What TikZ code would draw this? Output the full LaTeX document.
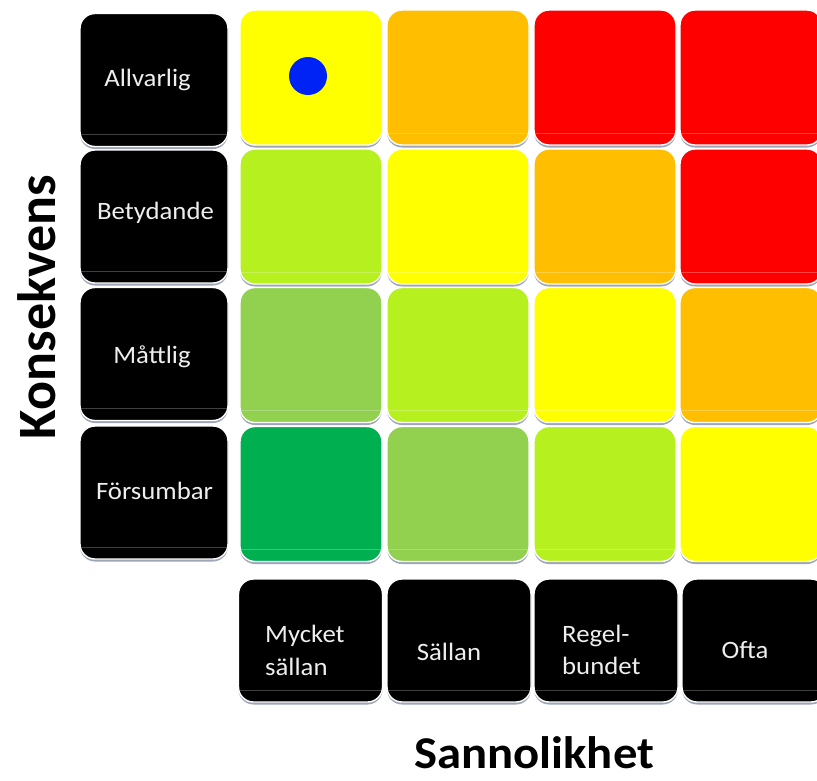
\documentclass[tikz,border=0pt]{standalone}
\usepackage{fontspec}
\setmainfont[FakeStretch=1.07]{Carlito}
\newfontfamily\vertfont{Carlito}
\usetikzlibrary{shadows}
\definecolor{cyel}{RGB}{255,255,0}
\definecolor{cora}{RGB}{255,190,0}
\definecolor{cred}{RGB}{255,0,0}
\definecolor{clime}{RGB}{182,240,30}
\definecolor{cmid}{RGB}{146,208,80}
\definecolor{cdark}{RGB}{0,176,80}
\definecolor{shadowc}{RGB}{140,150,170}
\definecolor{labelc}{RGB}{238,238,238}
\definecolor{dotc}{RGB}{0,35,245}
\begin{document}
\begin{tikzpicture}[x=1pt,y=-1pt,
  box/.style={rounded corners=15pt, inner sep=0pt, outer sep=0pt, draw=white, line width=1.4pt,
    drop shadow={shadow xshift=0pt, shadow yshift=-2.5pt, fill=shadowc, opacity=0.85}},
  cell/.style={box, minimum width=142pt, minimum height=135pt},
  side/.style={box, fill=black, minimum width=148pt, minimum height=133pt},
  bot/.style={box, fill=black, minimum width=144pt, minimum height=123pt},
  lbl/.style={text=labelc, font=\fontsize{25}{30}\selectfont, inner sep=0pt},
  gloss/.style={white, opacity=0.25, line width=0.8pt}]
\useasboundingbox (0,0) rectangle (817,780);
\clip (0,0) rectangle (817,780);
\fill[white] (0,0) rectangle (817,780);

% side labels
\node[side] (l1) at (154,80) {};
\node[side] (l2) at (154,216.5) {};
\node[side] (l3) at (154,354) {};
\node[side] (l4) at (154,492.5) {};

% matrix cells
\node[cell, fill=cyel]  (c11) at (311,77.5) {};
\node[cell, fill=cora]  (c12) at (458,77.5) {};
\node[cell, fill=cred]  (c13) at (605,77.5) {};
\node[cell, fill=cred]  (c14) at (751,77.5) {};
\node[cell, fill=clime] (c21) at (311,216.5) {};
\node[cell, fill=cyel]  (c22) at (458,216.5) {};
\node[cell, fill=cora]  (c23) at (605,216.5) {};
\node[cell, fill=cred]  (c24) at (751,216.5) {};
\node[cell, fill=cmid]  (c31) at (311,355) {};
\node[cell, fill=clime] (c32) at (458,355) {};
\node[cell, fill=cyel]  (c33) at (605,355) {};
\node[cell, fill=cora]  (c34) at (751,355) {};
\node[cell, fill=cdark] (c41) at (311,494) {};
\node[cell, fill=cmid]  (c42) at (458,494) {};
\node[cell, fill=clime] (c43) at (605,494) {};
\node[cell, fill=cyel]  (c44) at (751,494) {};

% bottom labels
\node[bot] (b1) at (310.5,640.5) {};
\node[bot] (b2) at (459,640.5) {};
\node[bot] (b3) at (606,640.5) {};
\node[bot] (b4) at (754,640.5) {};

% gloss lines
\foreach \n in {l1,l2,l3,l4,c11,c12,c13,c14,c21,c22,c23,c24,c31,c32,c33,c34,c41,c42,c43,c44,b1,b2,b3,b4}{
  \draw[gloss] ([xshift=1pt,yshift=12pt]\n.south west) -- ([xshift=-1pt,yshift=12pt]\n.south east);
}

% dot
\node[circle, fill=dotc, minimum size=38pt, inner sep=0pt] (dot) at (308,76) {};

% texts
\node[lbl, anchor=base] (t1) at (147.5,86) {Allvarlig};
\node[lbl, anchor=base] (t2) at (155.5,219) {Betydande};
\node[lbl, anchor=base] (t3) at (152,363) {Måttlig};
\node[lbl, anchor=base] (t4) at (154.5,499) {Försumbar};

\node[lbl, anchor=base west] (u1a) at (265,642) {Mycket};
\node[lbl, anchor=base west] (u1b) at (265,675) {sällan};
\node[lbl, anchor=base] (u2) at (449,660) {Sällan};
\node[lbl, anchor=base west] (u3a) at (562,642) {Regel-};
\node[lbl, anchor=base west] (u3b) at (562,674) {bundet};
\node[lbl, anchor=base] (u4) at (745,658) {Ofta};

\node[anchor=base, inner sep=0pt, rotate=90, font=\vertfont\bfseries\fontsize{54}{60}\selectfont] (ky) at (55,307) {Konsekvens};
\node[anchor=base, inner sep=0pt, font=\bfseries\fontsize{45.5}{52}\selectfont] (kx) at (534,768) {Sannolikhet};
\end{tikzpicture}
\end{document}
